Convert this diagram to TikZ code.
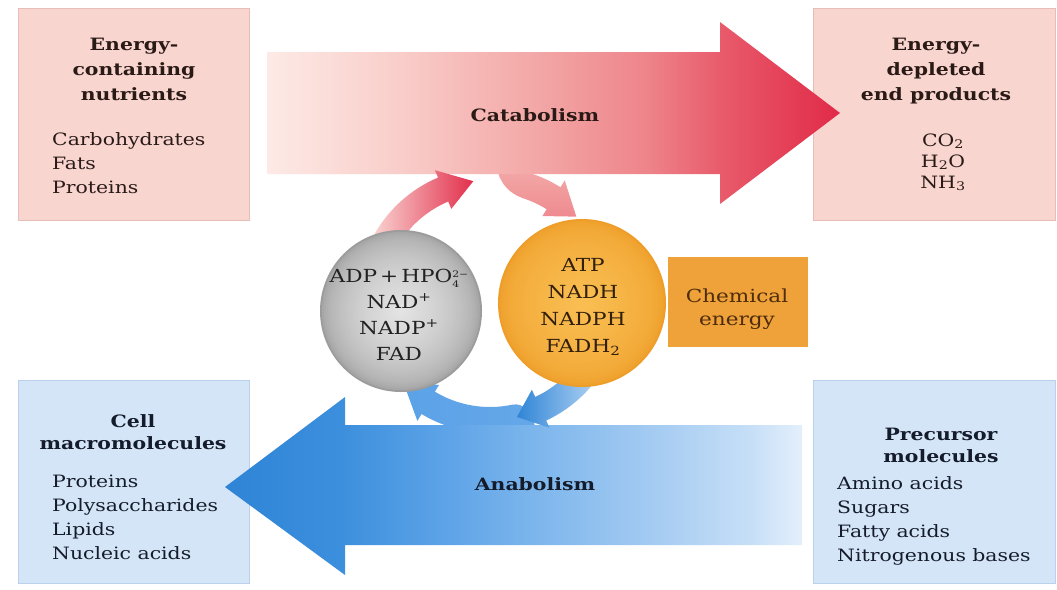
\documentclass[tikz,border=0pt]{standalone}
\usepackage{fontspec}
\setmainfont{DejaVu Serif}[FakeStretch=1.2]
\usetikzlibrary{calc}

% box and text colours
\definecolor{pinkfill}{HTML}{F9D5D0}
\definecolor{pinkedge}{HTML}{E6BDB7}
\definecolor{bluefill}{HTML}{D5E5F8}
\definecolor{blueedge}{HTML}{BBD0EA}
\definecolor{warmtext}{HTML}{2A1A16}
\definecolor{cooltext}{HTML}{141C2B}
\definecolor{balltext}{HTML}{222222}
\definecolor{ambertext}{HTML}{33200C}
\definecolor{chemfill}{HTML}{EFA13A}
\definecolor{chemtext}{HTML}{4E2D0C}
\definecolor{greyhi}{HTML}{E4E4E4}
\definecolor{greylo}{HTML}{9C9C9C}
\definecolor{amberhi}{HTML}{F9BE52}
\definecolor{amberlo}{HTML}{EE9D28}

% catabolism arrow colours, left to right
\definecolor{catA}{HTML}{FDEAE6}
\definecolor{catB}{HTML}{F9CFCB}
\definecolor{catC}{HTML}{F3A9A8}
\definecolor{catD}{HTML}{EE858B}
\definecolor{catE}{HTML}{E8596A}
\definecolor{catF}{HTML}{E12A48}
% anabolism arrow colours, tip to tail
\definecolor{anaA}{HTML}{2F84D6}
\definecolor{anaB}{HTML}{3C8FDD}
\definecolor{anaC}{HTML}{5FA4E8}
\definecolor{anaD}{HTML}{7DB6EC}
\definecolor{anaE}{HTML}{A4CBF2}
\definecolor{anaF}{HTML}{C6DFF7}
\definecolor{anaG}{HTML}{E4EFFB}

\pgfdeclarehorizontalshading{catashade}{100bp}{color(0bp)=(catA); color(25bp)=(catA);
  color(36bp)=(catB); color(48bp)=(catC); color(58bp)=(catD); color(65bp)=(catE);
  color(75bp)=(catF); color(100bp)=(catF)}
\pgfdeclarehorizontalshading{anashade}{100bp}{color(0bp)=(anaA); color(25bp)=(anaA);
  color(35bp)=(anaB); color(44.5bp)=(anaC); color(52bp)=(anaD); color(62bp)=(anaE);
  color(70.5bp)=(anaF); color(75bp)=(anaG); color(100bp)=(anaG)}

% stacked charge and count after an ion formula
\newcommand{\ionscripts}[2]{\raisebox{-0.6ex}{\fontsize{9}{11}\selectfont\shortstack[l]{#1\\#2}}}

\begin{document}
\begin{tikzpicture}[x=1pt,y=1pt,
  boxpink/.style={draw=pinkedge, line width=0.8pt, fill=pinkfill, inner sep=0pt},
  boxblue/.style={draw=blueedge, line width=0.8pt, fill=bluefill, inner sep=0pt},
  headtxt/.style={font=\fontsize{17}{25}\selectfont\bfseries, align=center, anchor=base, inner sep=0pt},
  listtxt/.style={font=\fontsize{17}{24}\selectfont, align=left, anchor=base west, inner sep=0pt},
  flowlabel/.style={font=\fontsize{17}{20}\selectfont\bfseries, inner sep=0pt},
  ballnode/.style={circle, inner sep=0pt},
  balltxt/.style={align=center, anchor=base, inner sep=0pt, font=\fontsize{18}{26}\selectfont}
]
\fill[white] (0,0) rectangle (1057,-589);
\useasboundingbox (0,0) rectangle (1057,-589);

% ---- corner boxes (multi-line labels are anchored at their last baseline) ----
\node[boxpink, minimum width=231, minimum height=212] (nutrients) at (133.5,-114) {};
\node[boxpink, minimum width=242, minimum height=212] (endprod) at (934,-114) {};
\node[boxblue, minimum width=231, minimum height=203] (macro) at (133.5,-481.5) {};
\node[boxblue, minimum width=242, minimum height=203] (precursor) at (934,-481.5) {};

\node[headtxt, text=warmtext] (nutrientshead) at (134,-100) {Energy-\\containing\\nutrients};
\node[listtxt, text=warmtext] (nutrientslist) at (52,-193) {Carbohydrates\\Fats\\Proteins};

\node[headtxt, text=warmtext] (endhead) at (936,-100) {Energy-\\depleted\\end products};
\node[headtxt, font=\fontsize{17}{21}\selectfont, text=warmtext] (endlist) at (943,-188)
  {CO\textsubscript{2}\\H\textsubscript{2}O\\NH\textsubscript{3}};

\node[headtxt, font=\fontsize{17}{22}\selectfont\bfseries, text=cooltext] (macrohead) at (133,-449) {Cell\\macromolecules};
\node[listtxt, text=cooltext] (macrolist) at (52,-559) {Proteins\\Polysaccharides\\Lipids\\Nucleic acids};

\node[headtxt, font=\fontsize{17}{22}\selectfont\bfseries, text=cooltext] (prechead) at (941,-462) {Precursor\\molecules};
\node[listtxt, text=cooltext] (preclist) at (837,-561) {Amino acids\\Sugars\\Fatty acids\\Nitrogenous bases};

% ---- ring arrow leaving the catabolism band (drawn under it) ----
\begin{scope}[shift={(490,-300)}]
  \shade[top color=catC, bottom color=catD!85!catC]
    (88:133) arc[start angle=88, end angle=58, radius=133] -- (58:141) -- (44:120) -- (58:99)
    -- (58:107) arc[start angle=58, end angle=72, radius=107]
    .. controls (21,106) and (10,115) .. (7,132) -- cycle;
\end{scope}

% ---- catabolism band ----
\shade[shading=catashade] (267,-52) -- (720,-52) -- (720,-22) -- (840,-113)
  -- (720,-204) -- (720,-174) -- (267,-174) -- cycle;
\node[flowlabel, text=warmtext] (catab) at (535,-115) {Catabolism};

% ---- ring arrow entering the catabolism band ----
\begin{scope}[shift={(490,-300)}]
  \shade[left color=catB!80!white, right color=catF!90!catE]
    (155:133) arc[start angle=155, end angle=113, radius=133] -- (113:141) -- (98:120) -- (113:99)
    -- (113:107) arc[start angle=113, end angle=155, radius=107] -- cycle;
% ---- ring arrow leaving the anabolism band (drawn under it) ----
  \shade[left color=anaC!90!anaB, right color=anaC!80!anaD]
    (-92:133) arc[start angle=-92, end angle=-121, radius=133] -- (-121:141) -- (-136:120) -- (-121:99)
    -- (-121:107) arc[start angle=-121, end angle=-78, radius=107]
    .. controls (34,-102.5) and (42,-112) .. (46,-130) -- cycle;
\end{scope}

% ---- anabolism band ----
\shade[shading=anashade] (802,-425) -- (345,-425) -- (345,-397) -- (225,-487)
  -- (345,-575) -- (345,-545) -- (802,-545) -- cycle;
\node[flowlabel, text=cooltext] (anab) at (535,-484) {Anabolism};

% ---- ring arrow entering the anabolism band ----
\begin{scope}[shift={(490,-300)}]
  \shade[left color=anaA!90!anaB, right color=anaF]
    (-25:133) arc[start angle=-25, end angle=-65, radius=133] -- (-65:141) -- (-77:120) -- (-65:99)
    -- (-65:107) arc[start angle=-65, end angle=-25, radius=107] -- cycle;
\end{scope}

% ---- carrier pools: spheres built from concentric discs ----
\node[ballnode, minimum size=162] (spent) at (401,-311) {};
\foreach \k in {0,...,40} {
  \pgfmathsetmacro{\rr}{81*(1-\k/41)}
  \pgfmathsetmacro{\mx}{100*sqrt(\k/40)}
  \fill[greyhi!\mx!greylo] (spent.center) circle[radius=\rr];
}
\node[balltxt, text=balltext] (spenttxt) at (399,-360)
  {ADP\,+\,HPO\ionscripts{2−}{4}\\NAD\textsuperscript{+}\\NADP\textsuperscript{+}\\FAD};
\node[ballnode, minimum size=168] (charged) at (582,-303) {};
\foreach \k in {0,...,40} {
  \pgfmathsetmacro{\rr}{84*(1-\k/41)}
  \pgfmathsetmacro{\mx}{100*sqrt(\k/40)}
  \fill[amberhi!\mx!amberlo] (charged.center) circle[radius=\rr];
}
\node[balltxt, font=\fontsize{18}{27}\selectfont, text=ambertext] (chargedtxt) at (583,-352)
  {ATP\\NADH\\NADPH\\FADH\textsubscript{2}};

\node[fill=chemfill, minimum width=140, minimum height=90, inner sep=0pt] (chem) at (738,-302) {};
\node[balltxt, font=\fontsize{18}{23}\selectfont, text=chemtext] (chemtxt) at (737,-325) {Chemical\\energy};
\end{tikzpicture}
\end{document}
